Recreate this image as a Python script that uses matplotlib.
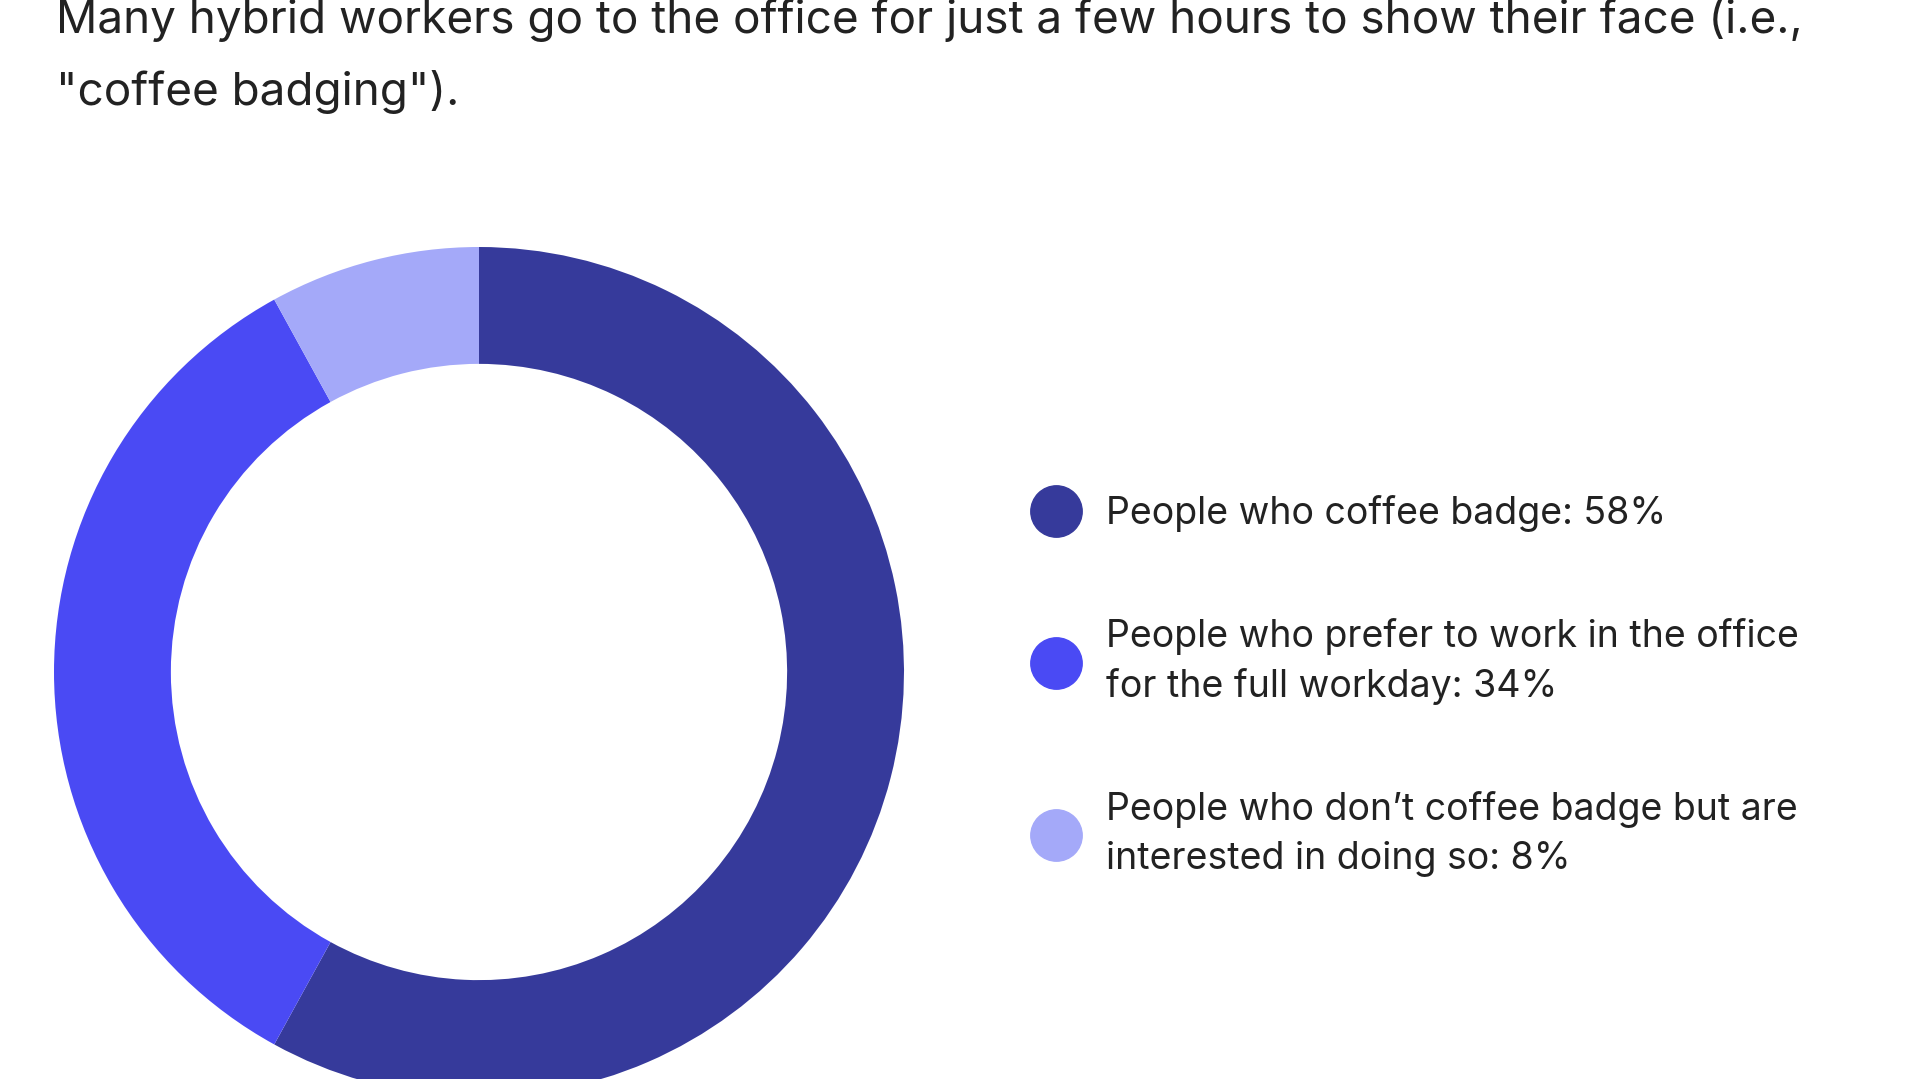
import matplotlib
matplotlib.use("Agg")
import matplotlib.pyplot as plt
from matplotlib.lines import Line2D

title = ('Many hybrid workers go to the office for just a few hours to show their face (i.e.,\n'
         '"coffee badging").')
labels = ["People who coffee badge: 58%",
          "People who prefer to work in the office\nfor the full workday: 34%",
          "People who don\u2019t coffee badge but are\ninterested in doing so: 8%"]
values = [58, 34, 8]
colors = ["#363A9B", "#4A4AF4", "#A4A9F9"]

plt.rcParams['font.family'] = ['Inter', 'DejaVu Sans']
W, H = 1920, 1079
fig = plt.figure(figsize=(W / 100, H / 100), dpi=100)
fig.patch.set_facecolor("white")

cx, cy, r = 479, 672, 425
ax = fig.add_axes([(cx - r) / W, (H - cy - r) / H, 2 * r / W, 2 * r / H])
ax.pie(values, colors=colors, startangle=90, counterclock=False, radius=1,
       wedgeprops=dict(width=0.275, linewidth=0))
ax.set_xlim(-1, 1)
ax.set_ylim(-1, 1)
ax.axis("off")

fig.text(56 / W, 1 - 56 / H, title, fontsize=33, color="#222222",
         ha="left", va="center", linespacing=1.78)

handles = [Line2D([], [], marker="o", linestyle="none", markersize=37,
                  markerfacecolor=c, markeredgecolor=c) for c in colors]
fs = 27
leg = fig.legend(handles, labels, loc="center left",
                 bbox_to_anchor=(1030 / W, 1 - 686 / H), frameon=False,
                 fontsize=fs, handlelength=1.39, handletextpad=0.64,
                 labelspacing=2.3, borderpad=0, borderaxespad=0)
for t in leg.get_texts():
    t.set_color("#222222")
    t.set_linespacing(1.45)

fig.savefig("out.png", dpi=100, facecolor="white")
